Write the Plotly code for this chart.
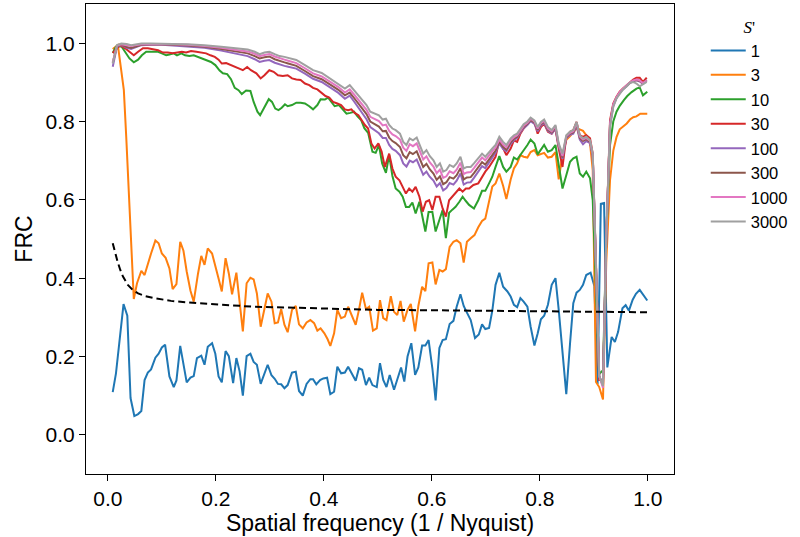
import plotly.graph_objects as go

# ---------------- data ----------------
labels = ["1", "3", "10", "30", "100", "300", "1000", "3000"]
colors = ["#1f77b4", "#ff7f0e", "#2ca02c", "#d62728", "#9467bd", "#8c564b", "#e377c2", "#a0a0a0"]

x_s1 = [0.009,0.015,0.029,0.036,0.042,0.049,0.056,0.062,0.068,0.074,0.080,0.088,0.094,0.100,0.106,0.114,0.122,0.127,0.134,0.140,
        0.146,0.153,0.159,0.165,0.173,0.179,0.185,0.193,0.199,0.205,0.211,0.218,0.224,0.232,0.238,0.244,0.250,0.257,0.264,0.270,
        0.276,0.283,0.290,0.296,0.303,0.309,0.315,0.321,0.327,0.333,
        0.341,0.348,0.354,0.361,0.368,0.375,0.380,0.386,0.393,0.399,0.406,0.412,0.419,0.425,0.432,0.439,0.445,0.451,0.459,0.465,
        0.471,0.478,0.484,0.490,0.498,0.504,0.510,0.516,0.522,0.530,0.536,0.543,0.549,0.555,0.562,0.569,0.575,0.582,0.588,0.594,
        0.601,0.607,0.614,0.620,0.626,0.633,0.640,0.646,0.653,0.659,0.665,0.672,
        0.680,0.687,0.693,0.699,0.706,0.712,0.718,0.725,0.732,0.740,0.746,0.752,0.758,0.764,0.770,0.777,0.783,0.790,0.796,0.802,
        0.808,0.815,0.822,0.829,0.835,0.842,0.849,0.856,0.862,0.868,0.874,0.880,0.886,0.894,0.901,0.907,0.913,0.919,0.925,0.933,
        0.939,0.945,0.953,0.959,0.965,0.972,0.978,0.985,0.991,0.999]
frc_s1 = [0.109,0.157,0.334,0.304,0.094,0.048,0.053,0.061,0.140,0.159,0.167,0.197,0.207,0.223,0.230,0.149,0.122,0.139,0.227,0.176,
          0.134,0.146,0.150,0.196,0.202,0.179,0.225,0.234,0.207,0.149,0.134,0.214,0.201,0.132,0.196,0.162,0.100,0.201,0.207,0.186,
          0.179,0.130,0.155,0.179,0.152,0.143,0.130,0.129,0.119,0.127,
          0.159,0.161,0.112,0.100,0.130,0.142,0.142,0.129,0.140,0.144,0.146,0.104,0.110,0.174,0.157,0.159,0.174,0.159,0.138,0.170,
          0.166,0.127,0.146,0.127,0.122,0.183,0.140,0.122,0.153,0.115,0.140,0.172,0.136,0.200,0.234,0.153,0.172,0.228,0.228,0.242,
          0.170,0.088,0.222,0.242,0.244,0.283,0.291,0.327,0.359,0.329,0.312,0.293,
          0.247,0.256,0.282,0.270,0.273,0.317,0.383,0.414,0.378,0.366,0.353,0.332,0.326,0.349,0.340,0.327,0.276,0.228,0.259,0.295,
          0.304,0.332,0.383,0.400,0.319,0.208,0.104,0.234,0.336,0.363,0.370,0.383,0.408,0.414,0.380,0.130,0.590,0.592,0.172,0.250,
          0.237,0.263,0.323,0.331,0.317,0.345,0.360,0.370,0.357,0.343]

x_s3 = [0.009,0.0185,0.0247,0.0296,0.034,0.0383,0.042,0.048,
        0.054,0.062,0.068,0.074,0.080,0.088,0.094,0.100,0.107,0.114,0.120,0.127,0.134,0.140,0.146,0.153,0.159,0.167,0.173,0.179,
        0.185,0.193,0.199,0.205,0.211,0.218,0.224,0.230,0.238,0.244,0.250,0.257,0.264,0.270,0.276,0.283,0.290,0.296,0.303,0.309,
        0.315,0.321,0.327,0.333,
        0.341,0.348,0.354,0.361,0.368,0.375,0.382,0.388,0.394,0.401,0.407,0.412,0.419,0.425,0.432,0.439,0.445,0.451,0.459,0.465,
        0.471,0.478,0.484,0.491,0.498,0.504,0.510,0.516,0.524,0.530,0.536,0.542,0.548,0.555,0.561,0.569,0.575,0.582,0.588,0.594,
        0.601,0.607,0.614,0.620,0.626,0.633,0.640,0.646,0.653,0.659,0.665,0.672,0.679,
        0.686,0.693,0.699,0.706,0.712,0.718,0.725,0.732,0.738,0.746,0.752,0.758,0.764,0.770,0.777,0.783,0.790,0.796,0.802,0.808,
        0.815,0.822,0.829,0.835,0.842,0.849,0.856,0.862,0.868,0.874,0.880,0.886,0.893,0.898,0.904,0.910,0.917,0.923,0.930,0.936,
        0.942,0.948,0.955,0.961,0.967,0.973,0.979,0.986,0.992,0.999]
frc_s3 = [0.985,0.995,0.931,0.880,0.761,0.634,0.506,0.347,
          0.387,0.419,0.408,0.438,0.463,0.496,0.489,0.463,0.452,0.425,0.372,0.385,0.493,0.470,0.417,0.368,0.340,0.412,0.457,0.434,
          0.476,0.463,0.434,0.399,0.366,0.451,0.412,0.359,0.414,0.332,0.264,0.387,0.401,0.397,0.361,0.276,0.320,0.361,0.340,0.285,
          0.287,0.321,0.281,0.262,
          0.319,0.329,0.282,0.272,0.287,0.293,0.285,0.266,0.272,0.259,0.244,0.227,0.259,0.319,0.298,0.302,0.327,0.306,0.281,0.319,
          0.363,0.321,0.327,0.266,0.272,0.344,0.298,0.293,0.354,0.314,0.306,0.342,0.289,0.319,0.334,0.264,0.329,0.378,0.367,0.438,
          0.440,0.384,0.421,0.417,0.423,0.480,0.493,0.497,0.489,0.440,0.493,0.502,0.510,
          0.530,0.546,0.552,0.595,0.634,0.642,0.667,0.636,0.602,0.652,0.680,0.693,0.714,0.710,0.708,0.722,0.727,0.714,0.718,0.720,
          0.708,0.710,0.722,0.652,0.715,0.753,0.763,0.774,0.782,0.780,0.776,0.765,0.744,0.676,0.135,0.122,0.090,0.440,0.650,0.725,
          0.760,0.780,0.787,0.795,0.805,0.811,0.813,0.820,0.820,0.820]

x_s10 = [0.009,0.015,0.025,0.032,0.040,0.048,0.056,0.063,0.071,0.079,0.086,0.093,0.100,0.108,0.114,0.122,0.128,0.136,0.143,0.151,
         0.159,0.167,0.176,0.184,0.191,0.199,0.207,0.213,0.221,0.228,0.235,0.242,0.248,0.256,0.264,0.270,0.277,0.282,0.290,0.298,
         0.304,0.310,0.316,0.322,0.328,0.333,
         0.341,0.349,0.357,0.365,0.373,0.380,0.388,0.394,0.402,0.408,0.414,0.420,0.428,0.435,0.442,0.449,0.456,0.462,0.469,0.475,
         0.482,0.490,0.496,0.502,0.508,0.515,0.521,0.527,0.533,0.540,0.546,0.552,0.558,0.564,0.570,0.577,0.583,0.588,0.594,0.601,
         0.607,0.614,0.620,0.626,0.632,0.638,0.644,0.651,0.657,0.663,0.669,
         0.678,0.686,0.693,0.699,0.706,0.712,0.718,0.725,0.732,0.738,0.746,0.752,0.758,0.764,0.770,0.777,0.783,0.790,0.796,0.802,
         0.808,0.815,0.822,0.829,0.835,0.842,0.849,0.856,0.862,0.868,0.874,0.880,0.886,0.893,0.898,0.904,0.910,0.917,0.923,0.930,
         0.936,0.942,0.948,0.956,0.962,0.970,0.979,0.985,0.991,0.999]
frc_s10 = [0.975,0.991,0.992,0.978,0.961,0.951,0.958,0.969,0.978,0.978,0.978,0.978,0.974,0.969,0.971,0.974,0.969,0.974,0.969,0.967,
           0.969,0.965,0.961,0.957,0.952,0.944,0.930,0.923,0.921,0.908,0.886,0.880,0.870,0.879,0.878,0.850,0.825,0.816,0.837,0.857,
           0.850,0.833,0.829,0.835,0.844,0.839,
           0.842,0.848,0.848,0.846,0.839,0.831,0.842,0.857,0.856,0.861,0.850,0.839,0.842,0.831,0.820,0.822,0.825,0.814,0.804,0.783,
           0.771,0.723,0.720,0.740,0.693,0.669,0.714,0.661,0.629,0.621,0.608,0.582,0.582,0.593,0.565,0.595,0.552,0.519,0.569,0.569,
           0.519,0.550,0.574,0.502,0.567,0.575,0.582,0.595,0.608,0.597,0.587,
           0.578,0.599,0.623,0.623,0.642,0.659,0.684,0.712,0.684,0.672,0.684,0.708,0.703,0.714,0.727,0.740,0.754,0.744,0.716,0.727,
           0.740,0.723,0.727,0.740,0.693,0.629,0.663,0.697,0.706,0.710,0.667,0.659,0.672,0.655,0.599,0.350,0.155,0.165,0.500,0.740,
           0.800,0.825,0.840,0.855,0.865,0.875,0.884,0.887,0.867,0.876]

x_s30 = [0.009,0.022,0.032,0.040,0.048,0.056,0.065,0.074,0.083,0.093,0.102,0.111,0.120,0.128,0.137,0.145,0.154,0.164,0.173,0.182,
         0.190,0.198,0.205,0.211,0.219,0.227,0.235,0.242,0.250,0.258,0.265,0.275,0.283,0.290,0.299,0.307,0.315,0.324,0.333,
         0.341,0.349,0.357,0.365,0.373,0.380,0.388,0.396,0.403,0.410,0.417,0.425,0.432,0.439,0.445,0.451,0.457,0.464,0.469,0.476,
         0.482,0.488,0.494,0.501,0.507,0.513,0.521,0.527,0.533,0.540,0.546,0.552,0.558,0.564,0.570,0.577,0.583,0.589,0.595,0.601,
         0.607,0.614,0.620,0.626,0.632,0.638,0.644,0.651,0.657,0.663,0.669,0.677,
         0.686,0.693,0.699,0.706,0.712,0.718,0.725,0.732,0.738,0.746,0.752,0.758,0.764,0.770,0.777,0.783,0.790,0.796,0.802,0.808,
         0.815,0.822,0.829,0.835,0.842,0.849,0.856,0.862,0.868,0.874,0.880,0.886,0.893,0.898,0.904,0.910,0.917,0.923,0.930,0.936,
         0.942,0.948,0.954,0.961,0.967,0.973,0.979,0.985,0.991,0.998]
frc_s30 = [0.975,0.995,0.987,0.978,0.969,0.978,0.987,0.987,0.984,0.982,0.976,0.976,0.974,0.976,0.978,0.976,0.980,0.978,0.976,0.974,
           0.969,0.965,0.958,0.948,0.949,0.944,0.941,0.935,0.931,0.939,0.931,0.923,0.910,0.918,0.931,0.927,0.918,0.916,0.918,
           0.910,0.907,0.906,0.897,0.893,0.886,0.882,0.873,0.865,0.861,0.850,0.846,0.842,0.831,0.829,0.831,0.822,0.816,0.804,0.791,
           0.782,0.744,0.731,0.744,0.723,0.684,0.718,0.680,0.659,0.650,0.633,0.616,0.629,0.621,0.633,0.608,0.570,0.595,0.599,0.574,
           0.608,0.608,0.578,0.557,0.599,0.608,0.616,0.629,0.621,0.629,0.629,0.638,
           0.642,0.659,0.672,0.684,0.697,0.710,0.752,0.731,0.714,0.731,0.752,0.748,0.769,0.782,0.795,0.803,0.799,0.769,0.786,0.795,
           0.774,0.769,0.782,0.731,0.684,0.761,0.774,0.778,0.799,0.765,0.761,0.765,0.757,0.718,0.440,0.140,0.140,0.500,0.803,0.846,
           0.863,0.876,0.884,0.893,0.901,0.907,0.912,0.912,0.901,0.912]

x_hi = [0.009,0.017,0.025,0.035,0.043,0.053,0.062,0.080,0.100,0.120,0.148,0.179,0.210,0.241,0.259,0.272,0.281,0.290,0.299,0.309,
        0.318,0.327,0.334,0.349,0.365,0.380,0.396,0.411,0.427,0.439,0.448,0.456,0.464,0.472,0.479,0.486,0.494,0.502,0.509,0.515,
        0.521,0.527,0.533,0.541,0.547,0.553,0.559,0.565,0.572,0.578,0.584,0.590,0.596,0.603,0.609,0.615,0.621,0.627,0.633,0.640,
        0.646,0.653,0.659,0.665,0.672,0.678,0.686,0.693,0.699,0.706,0.712,0.718,0.725,0.732,0.738,0.746,0.752,0.758,0.764,0.770,
        0.777,0.783,0.790,0.796,0.802,0.808,0.815,0.822,0.829,0.835,0.842,0.849,0.856,0.862,0.868,0.874,0.880,0.886,0.893,0.898,
        0.904,0.910,0.917,0.923,0.930,0.936,0.942,0.948,0.954,0.961,0.967,0.973,0.979,0.985,0.991,0.998]
frc_s100 = [0.940,0.992,0.995,0.988,0.985,0.990,0.995,0.996,0.996,0.994,0.992,0.988,0.981,0.973,0.967,0.959,0.952,0.955,0.957,0.950,
            0.945,0.942,0.940,0.935,0.922,0.909,0.901,0.888,0.873,0.858,0.866,0.851,0.836,0.822,0.806,0.786,0.778,0.770,0.758,0.758,
            0.740,0.730,0.725,0.714,0.693,0.685,0.700,0.696,0.703,0.681,0.664,0.672,0.659,0.649,0.634,0.643,0.624,0.630,0.643,0.639,
            0.649,0.667,0.639,0.644,0.645,0.656,0.671,0.686,0.681,0.696,0.708,0.720,0.744,0.730,0.724,0.743,0.752,0.758,0.772,0.783,
            0.791,0.801,0.794,0.775,0.790,0.796,0.776,0.769,0.782,0.736,0.705,0.757,0.766,0.769,0.790,0.754,0.742,0.750,0.745,0.712,
            0.430,0.150,0.128,0.500,0.790,0.840,0.860,0.873,0.882,0.891,0.898,0.903,0.905,0.902,0.896,0.904]
frc_s300 = [0.950,0.993,0.996,0.990,0.988,0.993,0.996,0.997,0.997,0.996,0.994,0.991,0.985,0.979,0.974,0.967,0.961,0.964,0.966,0.959,
            0.954,0.951,0.948,0.942,0.929,0.916,0.908,0.895,0.881,0.867,0.874,0.860,0.846,0.834,0.819,0.800,0.793,0.787,0.775,0.776,
            0.759,0.750,0.745,0.735,0.714,0.706,0.722,0.717,0.724,0.702,0.684,0.692,0.678,0.667,0.651,0.660,0.640,0.645,0.658,0.654,
            0.663,0.681,0.652,0.657,0.658,0.668,0.682,0.696,0.690,0.704,0.715,0.726,0.748,0.735,0.728,0.747,0.756,0.761,0.775,0.786,
            0.794,0.804,0.797,0.779,0.793,0.799,0.779,0.772,0.785,0.738,0.708,0.760,0.769,0.772,0.793,0.758,0.750,0.755,0.748,0.714,
            0.430,0.150,0.125,0.500,0.795,0.842,0.861,0.874,0.883,0.892,0.899,0.904,0.906,0.904,0.897,0.906]
frc_s1000 = [0.952,0.994,0.997,0.995,0.993,0.995,0.997,0.998,0.998,0.997,0.996,0.993,0.988,0.983,0.979,0.973,0.967,0.970,0.972,0.966,
             0.961,0.958,0.955,0.949,0.936,0.923,0.915,0.901,0.888,0.874,0.882,0.869,0.856,0.844,0.830,0.812,0.806,0.801,0.790,0.792,
             0.776,0.767,0.763,0.754,0.733,0.725,0.742,0.737,0.744,0.722,0.703,0.711,0.696,0.685,0.668,0.677,0.656,0.660,0.673,0.668,
             0.677,0.695,0.666,0.670,0.671,0.681,0.695,0.708,0.701,0.715,0.724,0.733,0.754,0.741,0.734,0.752,0.760,0.765,0.778,0.789,
             0.797,0.807,0.800,0.782,0.796,0.802,0.782,0.775,0.788,0.740,0.712,0.762,0.771,0.775,0.796,0.762,0.754,0.758,0.750,0.716,
             0.430,0.150,0.120,0.500,0.795,0.843,0.862,0.875,0.884,0.893,0.900,0.905,0.907,0.905,0.898,0.905]
frc_s3000 = [0.948,0.995,0.999,0.998,0.995,0.997,0.999,0.999,0.999,0.998,0.997,0.995,0.991,0.987,0.984,0.978,0.972,0.976,0.978,0.972,
             0.967,0.965,0.962,0.957,0.944,0.931,0.924,0.910,0.897,0.884,0.893,0.880,0.867,0.856,0.842,0.825,0.820,0.816,0.805,0.807,
             0.791,0.782,0.778,0.769,0.748,0.740,0.757,0.752,0.759,0.737,0.718,0.727,0.712,0.701,0.684,0.693,0.672,0.676,0.689,0.684,
             0.693,0.710,0.680,0.684,0.684,0.693,0.706,0.718,0.710,0.723,0.731,0.740,0.761,0.748,0.740,0.757,0.765,0.769,0.782,0.793,
             0.800,0.810,0.803,0.786,0.799,0.805,0.786,0.778,0.791,0.744,0.718,0.765,0.774,0.778,0.799,0.765,0.757,0.761,0.752,0.718,
             0.430,0.150,0.125,0.500,0.786,0.837,0.859,0.872,0.882,0.890,0.899,0.901,0.897,0.890,0.895,0.901]

x_thr = [0.009,0.013,0.018,0.023,0.028,0.037,0.046,0.056,0.070,0.086,0.100,0.117,0.148,0.180,0.210,0.270,0.333,0.420,0.500,0.600,
         0.690,0.800,0.900,0.999]
frc_thr = [0.489,0.465,0.442,0.421,0.404,0.383,0.370,0.361,0.354,0.349,0.345,0.342,0.338,0.335,0.332,0.327,0.325,0.322,0.319,0.318,
           0.317,0.315,0.314,0.313]

y_ticks = [0.0, 0.2, 0.4, 0.6, 0.8, 1.0]
x_ticks = [0.0, 0.2, 0.4, 0.6, 0.8, 1.0]
tick_text = ["0.0", "0.2", "0.4", "0.6", "0.8", "1.0"]

series = [
    (x_s1, frc_s1), (x_s3, frc_s3), (x_s10, frc_s10), (x_s30, frc_s30),
    (x_hi, frc_s100), (x_hi, frc_s300), (x_hi, frc_s1000), (x_hi, frc_s3000),
]

# ---------------- figure ----------------
fig = go.Figure()
for (xs, ys), lab, col in zip(series, labels, colors):
    fig.add_trace(go.Scatter(x=xs, y=ys, mode="lines", name=lab,
                             line=dict(color=col, width=2)))
fig.add_trace(go.Scatter(x=x_thr, y=frc_thr, mode="lines", showlegend=False,
                         line=dict(color="black", width=2, dash="7px,4px")))

axis_common = dict(showline=True, linecolor="black", linewidth=1.2, mirror=True,
                   ticks="outside", ticklen=6, tickwidth=1.2, tickcolor="black",
                   showgrid=False, zeroline=False, tickfont=dict(size=21, color="black"))

fig.update_layout(
    width=800, height=537, autosize=False,
    margin=dict(l=86, r=126, t=4, b=63),
    plot_bgcolor="white", paper_bgcolor="white",
    font=dict(family="Liberation Sans, Arial, sans-serif", color="black"),
    xaxis=dict(range=[-0.0405, 1.0485], tickvals=x_ticks, ticktext=tick_text,
               title=dict(text="Spatial frequency (1 / Nyquist)", font=dict(size=23), standoff=5),
               **axis_common),
    yaxis=dict(range=[-0.1, 1.1], tickvals=y_ticks, ticktext=tick_text,
               title=dict(text="FRC", font=dict(size=23), standoff=6),
               **axis_common),
    legend=dict(x=1.054, y=0.985, xanchor="left", yanchor="top", font=dict(size=16.5),
                itemwidth=35, bgcolor="rgba(0,0,0,0)",
                title=dict(text="<i>S</i>'", side="top center",
                           font=dict(family="Liberation Serif, serif", size=17))),
)

fig.write_html("out.html")
